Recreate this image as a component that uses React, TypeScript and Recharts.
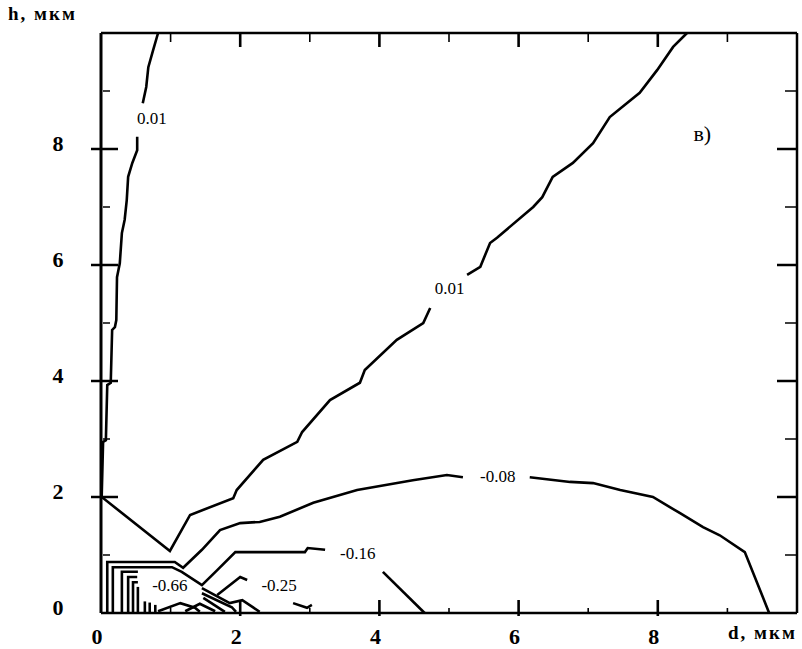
import React from "react";
import { LineChart, Line, XAxis, YAxis, ReferenceDot, ReferenceLine } from "recharts";

// axis ticks (d and h are both in мкм)
const allTicks = [0, 1, 2, 3, 4, 5, 6, 7, 8, 9, 10];
const innerTicks = [1, 2, 3, 4, 5, 6, 7, 8, 9];
const labeledTicks = [0, 2, 4, 6, 8];

// contour 0.01 – top-left branch, above the label
const c001a = [
  { d: 0.82, h: 10.0 },
  { d: 0.75, h: 9.71 },
  { d: 0.68, h: 9.41 },
  { d: 0.65, h: 9.07 },
  { d: 0.6, h: 8.79 },
];

// contour 0.01 – down the h axis, the V at d≈1 and up to the label
const c001b = [
  { d: 0.52, h: 8.21 },
  { d: 0.52, h: 7.98 },
  { d: 0.45, h: 7.76 },
  { d: 0.39, h: 7.52 },
  { d: 0.37, h: 7.12 },
  { d: 0.34, h: 6.78 },
  { d: 0.3, h: 6.55 },
  { d: 0.27, h: 6.03 },
  { d: 0.23, h: 5.79 },
  { d: 0.22, h: 5.05 },
  { d: 0.2, h: 4.93 },
  { d: 0.16, h: 4.88 },
  { d: 0.14, h: 3.97 },
  { d: 0.09, h: 3.93 },
  { d: 0.07, h: 2.98 },
  { d: 0.03, h: 2.95 },
  { d: 0.01, h: 2.0 },
  { d: 0.99, h: 1.07 },
  { d: 1.28, h: 1.69 },
  { d: 1.9, h: 1.98 },
  { d: 1.95, h: 2.12 },
  { d: 2.33, h: 2.64 },
  { d: 2.82, h: 2.95 },
  { d: 2.89, h: 3.12 },
  { d: 3.29, h: 3.67 },
  { d: 3.72, h: 3.97 },
  { d: 3.79, h: 4.19 },
  { d: 4.25, h: 4.71 },
  { d: 4.63, h: 5.0 },
  { d: 4.73, h: 5.26 },
];

// contour 0.01 – after the middle label, to the top edge
const c001c = [
  { d: 5.26, h: 5.83 },
  { d: 5.45, h: 5.97 },
  { d: 5.59, h: 6.38 },
  { d: 5.69, h: 6.47 },
  { d: 6.21, h: 7.0 },
  { d: 6.34, h: 7.17 },
  { d: 6.49, h: 7.52 },
  { d: 6.78, h: 7.76 },
  { d: 7.07, h: 8.1 },
  { d: 7.31, h: 8.55 },
  { d: 7.74, h: 8.97 },
  { d: 7.99, h: 9.36 },
  { d: 8.22, h: 9.76 },
  { d: 8.42, h: 10.0 },
];

// contour -0.08
const c008a = [
  { d: 0.09, h: 0 },
  { d: 0.09, h: 0.88 },
  { d: 1.06, h: 0.88 },
  { d: 1.18, h: 0.78 },
  { d: 1.45, h: 1.09 },
  { d: 1.71, h: 1.43 },
  { d: 2.0, h: 1.55 },
  { d: 2.28, h: 1.57 },
  { d: 2.57, h: 1.66 },
  { d: 3.05, h: 1.9 },
  { d: 3.68, h: 2.12 },
  { d: 4.48, h: 2.29 },
  { d: 4.97, h: 2.38 },
  { d: 5.2, h: 2.34 },
];
const c008b = [
  { d: 6.16, h: 2.34 },
  { d: 6.74, h: 2.26 },
  { d: 7.07, h: 2.24 },
  { d: 7.46, h: 2.12 },
  { d: 7.93, h: 2.0 },
  { d: 8.32, h: 1.72 },
  { d: 8.65, h: 1.48 },
  { d: 8.89, h: 1.34 },
  { d: 9.25, h: 1.05 },
  { d: 9.6, h: 0 },
];

// contour -0.16
const c016a = [
  { d: 0.17, h: 0 },
  { d: 0.17, h: 0.79 },
  { d: 1.02, h: 0.79 },
  { d: 1.16, h: 0.71 },
  { d: 1.45, h: 0.48 },
  { d: 1.67, h: 0.74 },
  { d: 1.93, h: 1.05 },
  { d: 2.93, h: 1.05 },
  { d: 2.97, h: 1.12 },
  { d: 3.22, h: 1.09 },
];
const c016b = [
  { d: 4.05, h: 0.71 },
  { d: 4.65, h: 0 },
];

// contour -0.25
const c025a = [
  { d: 0.3, h: 0 },
  { d: 0.3, h: 0.71 },
  { d: 0.53, h: 0.71 },
];
const c025b = [
  { d: 1.67, h: 0.31 },
  { d: 2.0, h: 0.62 },
  { d: 2.1, h: 0.57 },
];
const c025c = [
  { d: 2.76, h: 0.17 },
  { d: 2.96, h: 0.09 },
  { d: 3.03, h: 0.14 },
];

// deeper contours packed near the corner
const cInner1 = [
  { d: 0.39, h: 0 },
  { d: 0.39, h: 0.62 },
  { d: 0.52, h: 0.62 },
];
const cInner2 = [
  { d: 0.46, h: 0 },
  { d: 0.46, h: 0.53 },
  { d: 0.53, h: 0.53 },
];
const cInner3 = [
  { d: 0.53, h: 0 },
  { d: 0.53, h: 0.45 },
];
const cStub1 = [
  { d: 0.63, h: 0 },
  { d: 0.63, h: 0.2 },
];
const cStub2 = [
  { d: 0.7, h: 0 },
  { d: 0.7, h: 0.18 },
];
const cStub3 = [
  { d: 0.78, h: 0 },
  { d: 0.78, h: 0.14 },
];
const cHatch1 = [
  { d: 0.82, h: 0.03 },
  { d: 1.14, h: 0.17 },
  { d: 1.35, h: 0.09 },
  { d: 1.42, h: 0.02 },
];
const cHatch2 = [
  { d: 1.21, h: 0.03 },
  { d: 1.42, h: 0.16 },
  { d: 1.64, h: 0.03 },
];
const cPar1 = [
  { d: 1.45, h: 0.43 },
  { d: 1.85, h: 0.17 },
  { d: 2.03, h: 0.22 },
  { d: 2.18, h: 0.1 },
  { d: 2.28, h: 0.02 },
];
const cPar2 = [
  { d: 1.45, h: 0.34 },
  { d: 1.88, h: 0.1 },
  { d: 1.94, h: 0.02 },
];
const cPar3 = [
  { d: 1.47, h: 0.26 },
  { d: 1.78, h: 0.02 },
];

const contours = [
  c001a, c001b, c001c, c008a, c008b, c016a, c016b, c025a, c025b, c025c,
  cInner1, cInner2, cInner3, cStub1, cStub2, cStub3, cHatch1, cHatch2,
  cPar1, cPar2, cPar3,
];

const contourLabels = [
  { d: 0.73, h: 8.53, text: "0.01" },
  { d: 5.01, h: 5.59, text: "0.01" },
  { d: 5.7, h: 2.36, text: "-0.08" },
  { d: 3.69, h: 1.02, text: "-0.16" },
  { d: 0.99, h: 0.48, text: "-0.66" },
  { d: 2.56, h: 0.48, text: "-0.25" },
];

const panelMark = { d: 8.64, h: 8.26, text: "в)" };

const serif = "'Liberation Serif', 'DejaVu Serif', serif";

// plot box in px (chart margins + axis sizes), used for the d ticks on top and bottom
const PLOT_W = 696;
const PLOT_H = 580;

function BottomTick({ x, y, payload }: any) {
  const v = payload.value;
  if (!labeledTicks.includes(v)) return <g />;
  return (
    <text
      x={x - 4}
      y={y + 23}
      textAnchor="middle"
      dominantBaseline="central"
      fontFamily={serif}
      fontWeight="bold"
      fontSize={22}
      fill="#000"
    >
      {v}
    </text>
  );
}

// left tick labels; the h = 0 tick (bottom-left corner) also carries the d tick marks
function LeftTick({ x, y, payload }: any) {
  const v = payload.value;
  return (
    <g>
      {v === 0 &&
        innerTicks.map((k) => {
          const major = k % 2 === 0;
          const px = x + (k * PLOT_W) / 10;
          const w = major ? 2.6 : 1.6;
          return (
            <g key={k}>
              <path
                d={`M${px},${y - PLOT_H} L${px},${y - PLOT_H + (major ? 14 : 9)}`}
                stroke="#000"
                strokeWidth={w}
                fill="none"
              />
              <path
                d={`M${px},${y + (major ? 3 : 0)} L${px},${y - (major ? 13 : 5)}`}
                stroke="#000"
                strokeWidth={w}
                fill="none"
              />
            </g>
          );
        })}
      {labeledTicks.includes(v) && (
        <text
          x={x - 43}
          y={y - 6}
          textAnchor="middle"
          dominantBaseline="central"
          fontFamily={serif}
          fontWeight="bold"
          fontSize={22}
          fill="#000"
        >
          {v}
        </text>
      )}
    </g>
  );
}

// h-axis tick marks at both ends of a horizontal reference line
function hTicks(major: boolean) {
  return (p: any) => {
    const left = Math.min(p.x1, p.x2);
    const right = Math.max(p.x1, p.x2);
    const w = major ? 2.5 : 1.5;
    return (
      <g>
        {major ? (
          <line x1={left - 10} x2={left + 17} y1={p.y1} y2={p.y1} stroke="#000" strokeWidth={w} />
        ) : (
          <line x1={left + 2} x2={left + 9} y1={p.y1} y2={p.y1} stroke="#000" strokeWidth={w} />
        )}
        <line x1={right} x2={right - (major ? 20 : 12)} y1={p.y1} y2={p.y1} stroke="#000" strokeWidth={w} />
      </g>
    );
  };
}

function labelShape(text: string, size: number) {
  return (props: any) => (
    <text
      x={props.cx}
      y={props.cy}
      textAnchor="middle"
      dominantBaseline="central"
      fontFamily={serif}
      fontSize={size}
      fill="#000"
    >
      {text}
    </text>
  );
}

export default function App() {
  return (
    <div style={{ position: "absolute", left: 0, top: 0, width: 802, height: 649, background: "#fff" }}>
      <LineChart width={802} height={649} margin={{ top: 32, right: 4, bottom: 6, left: 41 }}>
        <XAxis
          xAxisId="bottom"
          dataKey="d"
          type="number"
          domain={[0, 10]}
          ticks={allTicks}
          interval={0}
          height={30}
          tickSize={0}
          tickMargin={0}
          tickLine={false}
          tick={<BottomTick />}
          axisLine={{ stroke: "#000", strokeWidth: 2.5 }}
        />
        <XAxis
          xAxisId="top"
          orientation="top"
          dataKey="d"
          type="number"
          domain={[0, 10]}
          height={1}
          tick={false}
          tickLine={false}
          axisLine={{ stroke: "#000", strokeWidth: 2.5 }}
        />
        <YAxis
          yAxisId="left"
          type="number"
          domain={[0, 10]}
          ticks={allTicks}
          interval={0}
          width={60}
          tickSize={0}
          tickMargin={0}
          tickLine={false}
          tick={<LeftTick />}
          axisLine={{ stroke: "#000", strokeWidth: 3 }}
        />
        <YAxis
          yAxisId="right"
          orientation="right"
          type="number"
          domain={[0, 10]}
          width={1}
          tick={false}
          tickLine={false}
          axisLine={{ stroke: "#000", strokeWidth: 2.5 }}
        />
        {innerTicks.map((v) => (
          <ReferenceLine
            key={"hy" + v}
            xAxisId="bottom"
            yAxisId="left"
            y={v}
            stroke="#000"
            shape={hTicks(v % 2 === 0)}
          />
        ))}
        {contours.map((seg, i) => (
          <Line
            key={i}
            xAxisId="bottom"
            yAxisId="left"
            data={seg}
            dataKey="h"
            type="linear"
            dot={false}
            stroke="#000"
            strokeWidth={2.6}
            isAnimationActive={false}
          />
        ))}
        {contourLabels.map((l, i) => (
          <ReferenceDot
            key={"lab" + i}
            xAxisId="bottom"
            yAxisId="left"
            x={l.d}
            y={l.h}
            r={1}
            shape={labelShape(l.text, 17)}
          />
        ))}
        <ReferenceDot
          xAxisId="bottom"
          yAxisId="left"
          x={panelMark.d}
          y={panelMark.h}
          r={1}
          shape={labelShape(panelMark.text, 22)}
        />
      </LineChart>
      <div
        style={{
          position: "absolute",
          left: 8,
          top: 3,
          fontFamily: serif,
          fontWeight: "bold",
          fontSize: 19,
          letterSpacing: 2,
          whiteSpace: "nowrap",
        }}
      >
        h, мкм
      </div>
      <div
        style={{
          position: "absolute",
          left: 728,
          top: 622,
          fontFamily: serif,
          fontWeight: "bold",
          fontSize: 19,
          letterSpacing: 2,
          whiteSpace: "nowrap",
        }}
      >
        d, мкм
      </div>
    </div>
  );
}
